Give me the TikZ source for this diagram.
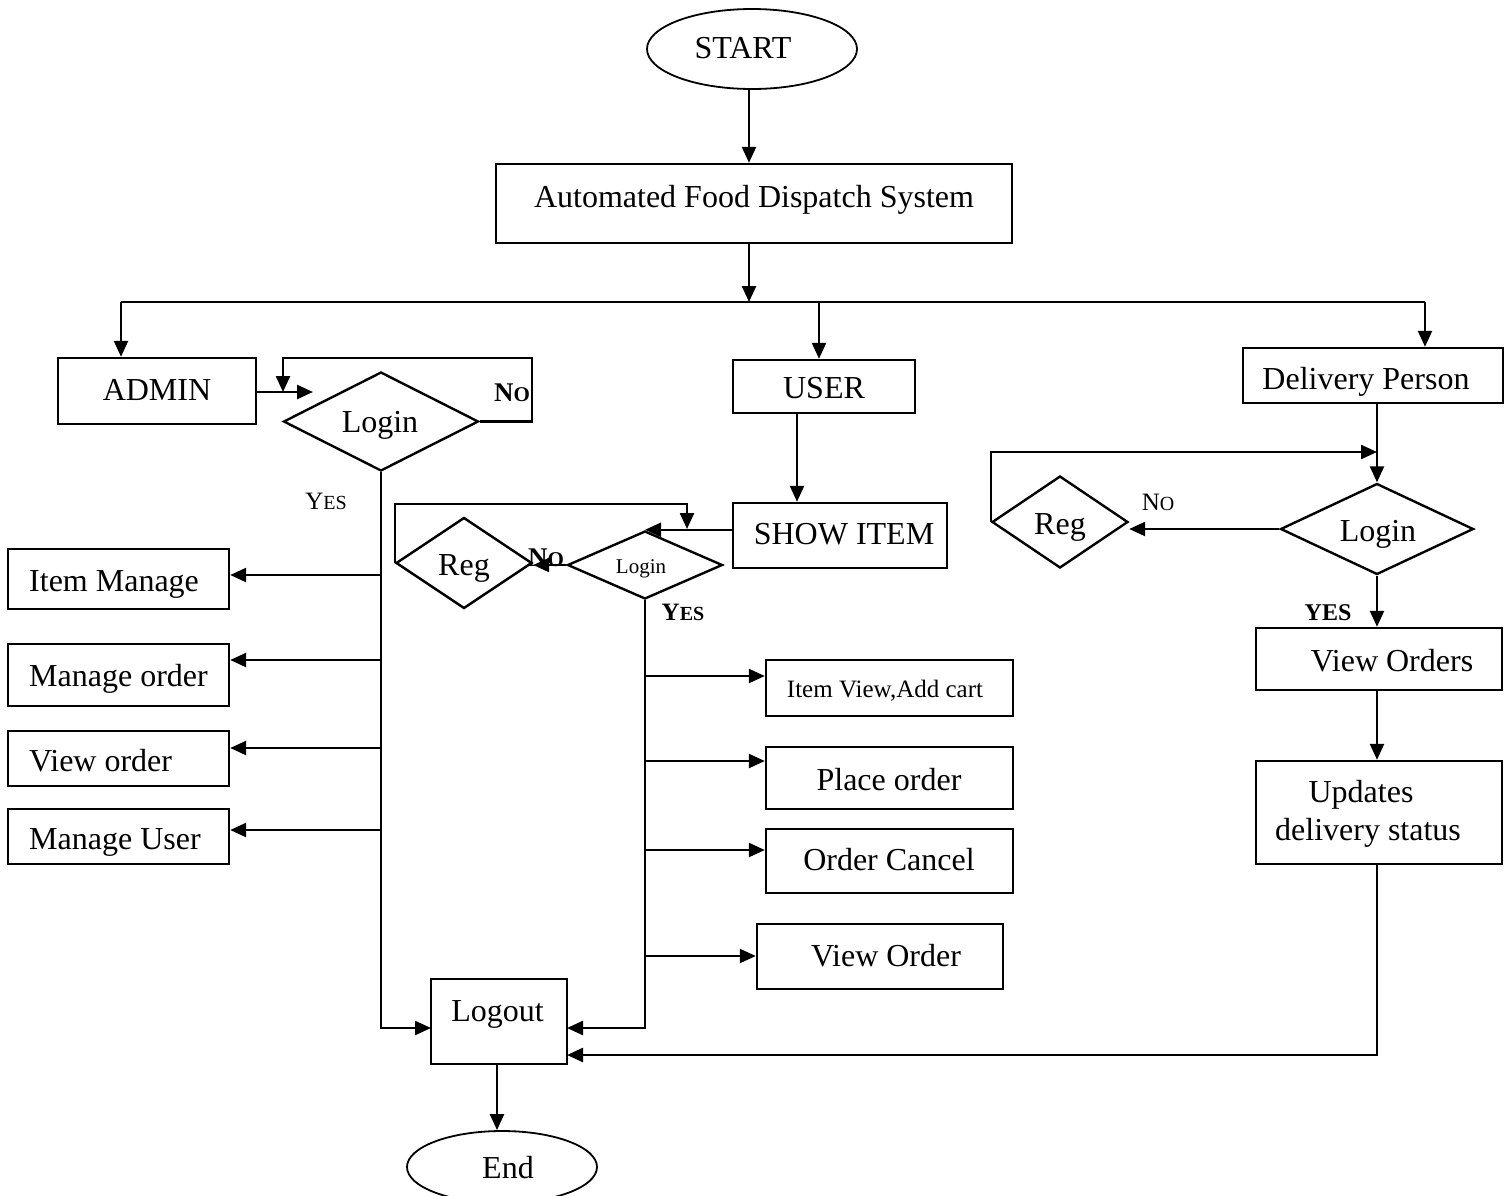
\documentclass[tikz,border=0pt]{standalone}
\usepackage{fontspec}
\setmainfont{Liberation Serif}
\usetikzlibrary{arrows.meta,shapes.geometric}
\newcommand\fsz[1]{\fontsize{#1}{#1}\selectfont}
\begin{document}
\begin{tikzpicture}[x=1pt,y=-1pt,
  every node/.style={font=\fontsize{32}{38}\selectfont},
  box/.style={draw,line width=2.4pt,inner sep=0pt,rectangle},
  dia/.style={draw,line width=2.4pt,inner sep=0pt,diamond},
  oval/.style={draw,line width=1.8pt,inner sep=0pt,ellipse},
  txt/.style={inner sep=0pt,text height=22pt,text depth=0pt},
  conn/.style={line width=2.4pt},
  arr/.style={line width=2.4pt,-{Triangle[length=16pt,width=14pt]}},
]
\useasboundingbox (0,0) rectangle (1510,1195);

% ---- shapes
\node[oval,minimum width=210,minimum height=80] (start) at (752,49) {};
\node[box,minimum width=516,minimum height=79] (main) at (754,203.5) {};
\node[box,minimum width=198,minimum height=66] (admin) at (157,391) {};
\node[box,minimum width=182,minimum height=53] (user) at (824,386.5) {};
\node[box,minimum width=260,minimum height=55] (dp) at (1373,375.5) {};
\node[box,minimum width=214,minimum height=65] (show) at (840,535.5) {};

\node[dia,minimum width=195,minimum height=99] (alogin) at (381,421.5) {};
\node[dia,minimum width=136,minimum height=91] (ureg) at (464,563) {};
\node[dia,minimum width=155,minimum height=68] (ulogin) at (645,565) {};
\node[dia,minimum width=136,minimum height=92] (dreg) at (1060,522) {};
\node[dia,minimum width=193,minimum height=91] (dlogin) at (1377,529) {};

\node[box,minimum width=221,minimum height=60] (im) at (118.5,579) {};
\node[box,minimum width=221,minimum height=62] (mo) at (118.5,675) {};
\node[box,minimum width=221,minimum height=55] (vw) at (118.5,758.5) {};
\node[box,minimum width=221,minimum height=55] (mu) at (118.5,836.5) {};

\node[box,minimum width=247,minimum height=56] (iv) at (889.5,688) {};
\node[box,minimum width=247,minimum height=62] (po) at (889.5,778) {};
\node[box,minimum width=247,minimum height=64] (oc) at (889.5,861) {};
\node[box,minimum width=246,minimum height=65] (vo) at (880,956.5) {};

\node[box,minimum width=246,minimum height=62] (vord) at (1379,659) {};
\node[box,minimum width=246,minimum height=103] (upd) at (1379,812.5) {};

\node[box,minimum width=136,minimum height=85] (logout) at (499,1021.5) {};
\node[oval,minimum width=190,minimum height=72] (endn) at (502,1167) {};

% ---- texts
\node[txt] (startT) at (743,47) {START};
\node[txt] (mainT) at (754,196) {Automated Food Dispatch System};
\node[txt] (adminT) at (157,389) {ADMIN};
\node[txt] (userT) at (824,387) {USER};
\node[txt] (dpT) at (1366,378) {Delivery Person};
\node[txt] (showT) at (844,533) {SHOW ITEM};
\node[txt] (aloginT) at (380,421) {Login};
\node[txt] (uregT) at (464,564) {Reg};
\node[txt,font=\fsz{21},text height=14pt] (uloginT) at (641,566) {Login};
\node[txt] (dregT) at (1060,523) {Reg};
\node[txt] (dloginT) at (1378,530) {Login};
\node[txt,anchor=west] (imT) at (29,580) {Item Manage};
\node[txt,anchor=west] (moT) at (29,675) {Manage order};
\node[txt,anchor=west] (vwT) at (29,760) {View order};
\node[txt,anchor=west] (muT) at (29,838) {Manage User};
\node[txt,font=\fsz{25},text height=17pt] (ivT) at (885,688.5) {Item View,Add cart};
\node[txt] (poT) at (889,779) {Place order};
\node[txt] (ocT) at (889,859.5) {Order Cancel};
\node[txt] (voT) at (886,955) {View Order};
\node[txt] (vordT) at (1392,660) {View Orders};
\node[inner sep=0pt,align=center] (updT) at (1368,814) {Updates\hspace*{14pt}\\delivery status};
\node[txt] (logoutT) at (497.5,1010) {Logout};
\node[txt] (endT) at (508,1167) {End};

% ---- connector labels
\node[txt,text height=17pt] (ayes) at (326,501) {\fsz{25}Y\fsz{20}ES};
\node[txt,text height=18pt] (ano) at (512,392) {\bfseries\fsz{27}N\fsz{21}O};
\node[txt,text height=18pt] (uno) at (546,557) {\bfseries\fsz{27}N\fsz{21}O};
\node[txt,text height=17pt] (uyes) at (683,612) {\bfseries\fsz{25}Y\fsz{20}ES};
\node[txt,text height=17pt] (dno) at (1158,502) {\fsz{25}N\fsz{20}O};
\node[txt,text height=16pt] (dyes) at (1328,612) {\bfseries\fsz{24}YES};

% ---- coordinates
\coordinate (bus) at (749,302);
\coordinate (busL) at (121,302);
\coordinate (busU) at (819,302);
\coordinate (busR) at (1425,302);
\coordinate (aIn) at (313,392);
\coordinate (lgA) at (431,1028);
\coordinate (lgB) at (567,1028);
\coordinate (lgC) at (567,1055);

% ---- connectors
\draw[arr] (start.south -| bus) -- (main.north -| bus);
\draw[arr] (main.south -| bus) -- (bus);
\draw[conn] (busL) -- (busR);
\draw[arr] (busL) -- (busL |- admin.north);
\draw[arr] (busU) -- (busU |- user.north);
\draw[arr] (busR) -- (busR |- dp.north);

% admin
\draw[arr] (admin.east |- aIn) -- (aIn);
\draw[arr] (alogin.east) -- (532,421.5) -- (532,358) -- (283,358) -- (283,392);
\draw[arr] (alogin.south) |- (lgA);
\draw[arr] (alogin.south |- 0,575) -- (im.east |- 0,575);
\draw[arr] (alogin.south |- 0,660) -- (mo.east |- 0,660);
\draw[arr] (alogin.south |- 0,748) -- (vw.east |- 0,748);
\draw[arr] (alogin.south |- 0,830) -- (mu.east |- 0,830);

% user
\draw[arr] (user.south -| 797,0) -- (show.north -| 797,0);
\draw[arr] (show.west |- ulogin.north) -- (ulogin.north);
\draw[arr] (ureg.west) |- (687,504) -- (687,529);
\draw[arr] (ulogin.west) -- (ureg.east |- ulogin.west);
\draw[arr] (ulogin.south) |- (lgB);
\draw[arr] (ulogin.south |- 0,676) -- (iv.west |- 0,676);
\draw[arr] (ulogin.south |- 0,761) -- (po.west |- 0,761);
\draw[arr] (ulogin.south |- 0,850) -- (oc.west |- 0,850);
\draw[arr] (ulogin.south |- 0,956) -- (vo.west |- 0,956);

% delivery
\draw[arr] (dp.south -| dlogin.north) -- (dlogin.north);
\draw[arr] (dreg.west) |- (dlogin.north |- 0,452);
\draw[arr] (dlogin.west) -- (dreg.east |- dlogin.west);
\draw[arr] (dlogin.south) -- (dlogin.south |- vord.north);
\draw[arr] (vord.south -| dlogin.south) -- (upd.north -| dlogin.south);
\draw[arr] (upd.south -| dlogin.south) |- (lgC);

% logout
\draw[arr] (logout.south -| 497,0) -- (endn.north -| 497,0);
\end{tikzpicture}
\end{document}
